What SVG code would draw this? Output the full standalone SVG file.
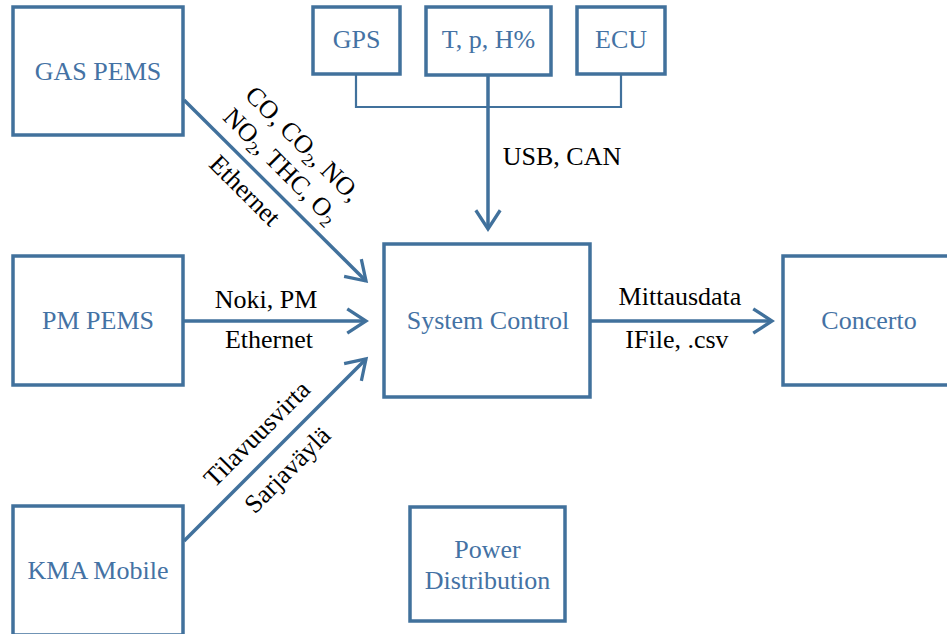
<svg xmlns="http://www.w3.org/2000/svg" width="947" height="634" viewBox="0 0 947 634">
<defs>
<style>
.box{fill:#fff;stroke:#41719C;stroke-width:3.5}
.nt{font-family:'Liberation Serif',Tinos,'Times New Roman','DejaVu Serif',serif;font-size:26px;fill:#4472A4;text-anchor:middle}
.lb{font-family:'Liberation Serif',Tinos,'Times New Roman','DejaVu Serif',serif;font-size:26px;fill:#000;text-anchor:middle}
.con{fill:none;stroke:#41719C;stroke-width:3.5}
.br{fill:none;stroke:#41719C;stroke-width:2.2}
.sub{font-size:17px}
</style>
<marker id="arr" markerUnits="userSpaceOnUse" orient="auto" refX="0" refY="0" markerWidth="30" markerHeight="30" viewBox="-24 -16 28 32" overflow="visible">
<path d="M-20,-13 L0,0 L-20,13" fill="none" stroke="#41719C" stroke-width="3.5" stroke-linejoin="miter"/>
</marker>
</defs>
<g id="connectors">
<path class="br" d="M356,74 V107 H621 V74"/>
<path class="con" d="M488,75 V229" marker-end="url(#arr)"/>
<path class="con" d="M184,100 L366,281" marker-end="url(#arr)"/>
<path class="con" d="M184,321 H366" marker-end="url(#arr)"/>
<path class="con" d="M184,541 L366,359" marker-end="url(#arr)"/>
<path class="con" d="M590,321 H772" marker-end="url(#arr)"/>
<text class="lb" x="562" y="165">USB, CAN</text>
<text class="lb" x="266" y="308">Noki, PM</text>
<text class="lb" x="269" y="348">Ethernet</text>
<text class="lb" x="680" y="305">Mittausdata</text>
<text class="lb" x="677" y="348">IFile, .csv</text>
<g transform="rotate(45)">
<text class="lb" x="316" y="-104">CO, CO<tspan class="sub" dy="5">2</tspan><tspan dy="-5">, NO,</tspan></text>
<text class="lb" x="316" y="-73">NO<tspan class="sub" dy="5">2</tspan><tspan dy="-5">, THC, O</tspan><tspan class="sub" dy="5">2</tspan></text>
<text class="lb" x="308" y="-30">Ethernet</text>
</g>
<g transform="rotate(-45)">
<text class="lb" x="-125" y="497">Tilavuusvirta</text>
<text class="lb" x="-129" y="544">Sarjaväylä</text>
</g>
</g>
<g id="gas-pems"><rect class="box" x="13" y="7" width="170" height="128"/><text class="nt" x="98" y="80">GAS PEMS</text></g>
<g id="pm-pems"><rect class="box" x="13" y="256" width="170" height="129"/><text class="nt" x="98" y="329">PM PEMS</text></g>
<g id="kma-mobile"><rect class="box" x="13" y="506" width="170" height="129"/><text class="nt" x="98" y="579">KMA Mobile</text></g>
<g id="gps"><rect class="box" x="313" y="7" width="87" height="67"/><text class="nt" x="356.5" y="48">GPS</text></g>
<g id="tph"><rect class="box" x="426" y="7" width="125" height="68"/><text class="nt" x="488.5" y="48">T, p, H%</text></g>
<g id="ecu"><rect class="box" x="577" y="7" width="88" height="67"/><text class="nt" x="621" y="48">ECU</text></g>
<g id="system-control"><rect class="box" x="384" y="244" width="206" height="153"/><text class="nt" x="488" y="329">System Control</text></g>
<g id="concerto"><rect class="box" x="783" y="256" width="172" height="129"/><text class="nt" x="869" y="329">Concerto</text></g>
<g id="power-distribution"><rect class="box" x="410" y="507" width="155" height="114"/><text class="nt" x="487.5" y="558">Power</text><text class="nt" x="487.5" y="589">Distribution</text></g>
</svg>
